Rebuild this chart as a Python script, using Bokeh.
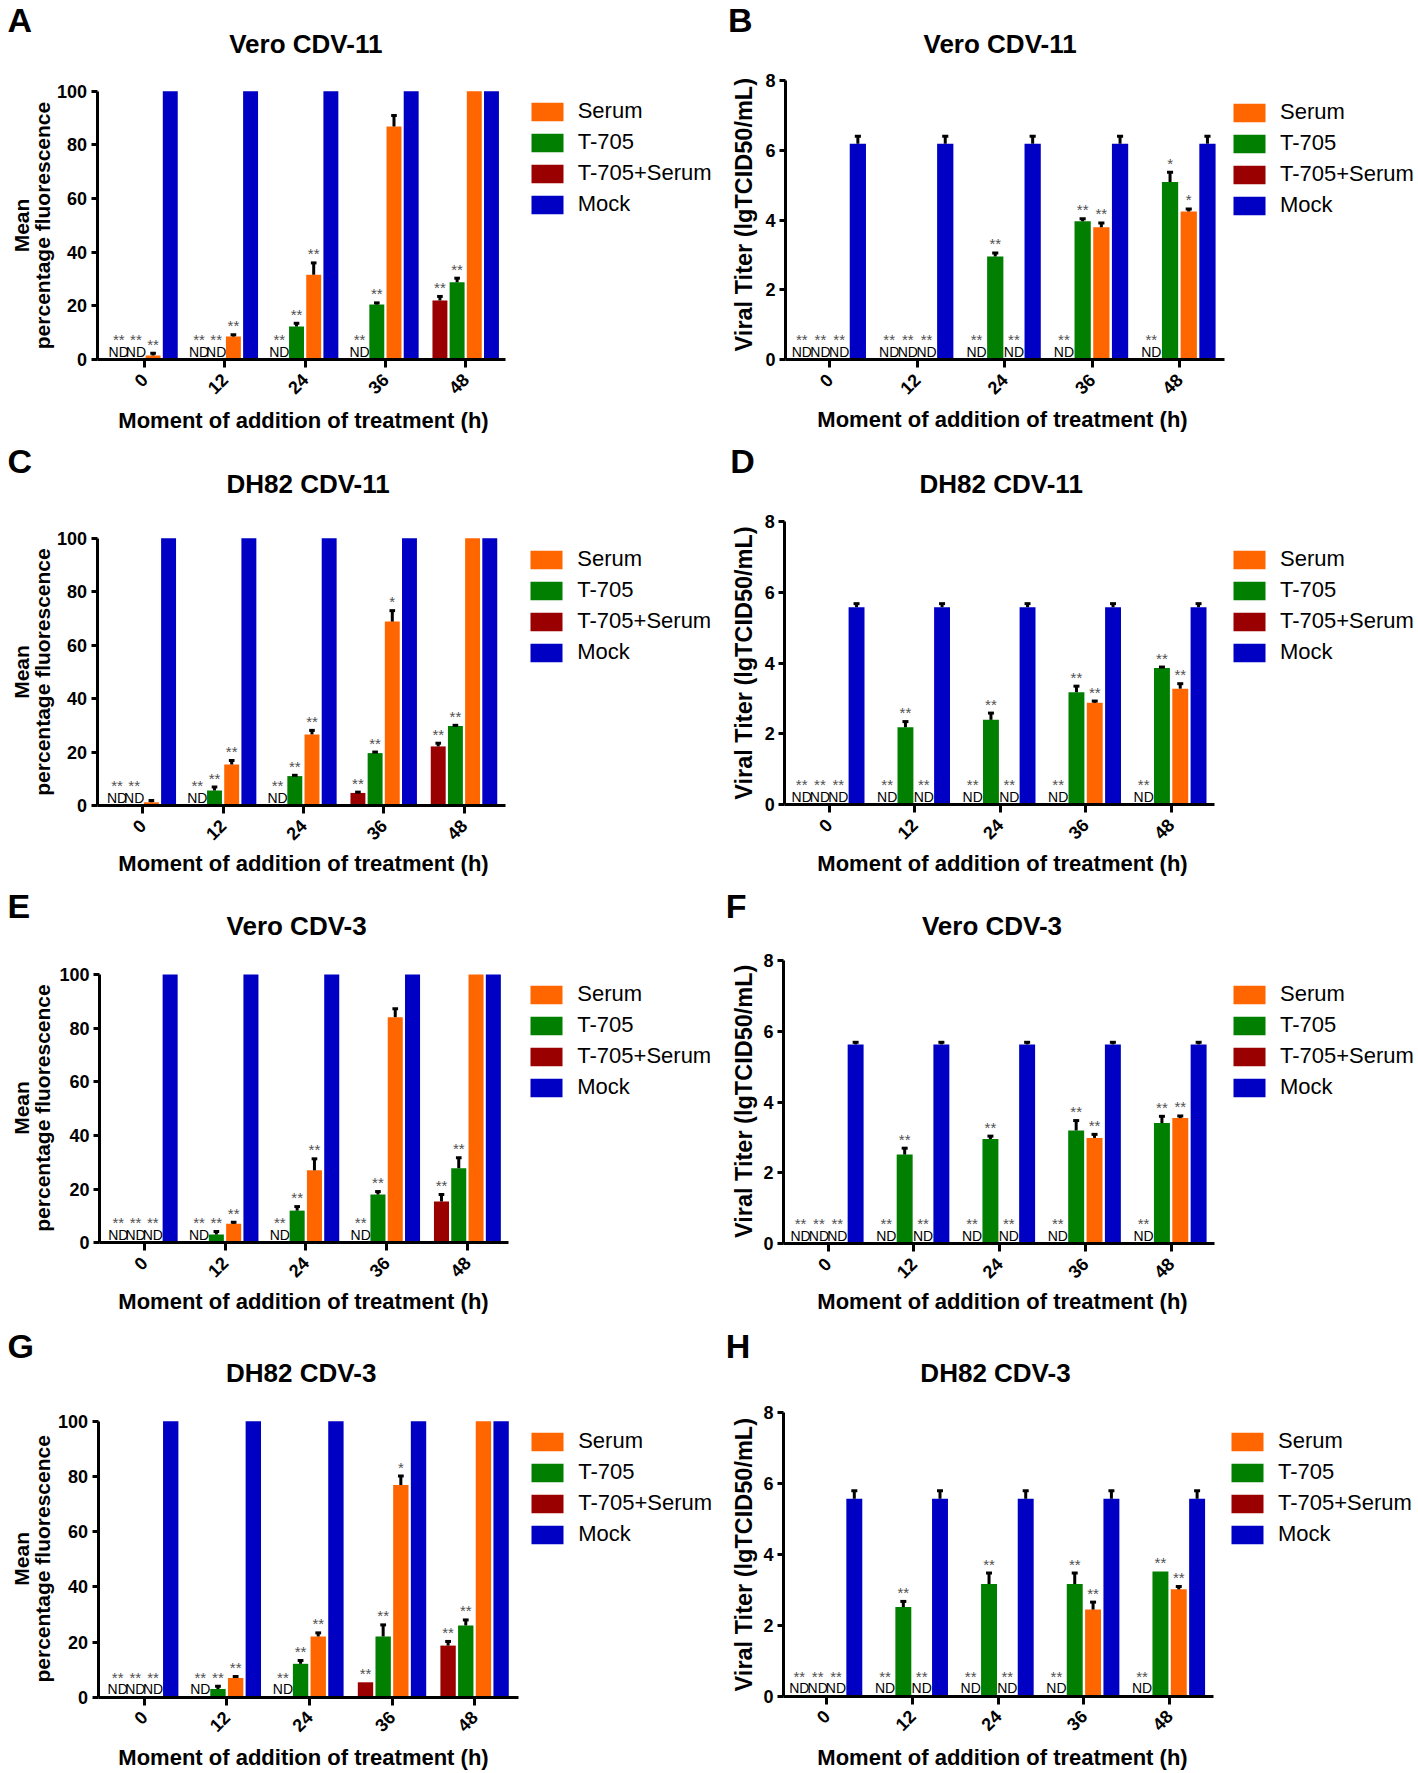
import math
from bokeh.plotting import figure
from bokeh.models import Range1d, FixedTicker, Legend, LegendItem, ColumnDataSource
from bokeh.layouts import column, row
from bokeh.embed import file_html
from bokeh.resources import INLINE
from bokeh.core.properties import value

# ---------------- data ----------------
hours = ["0", "12", "24", "36", "48"]
series_names = ["T-705+Serum", "T-705", "Serum", "Mock"]      # bar order inside a group
legend_order = ["Serum", "T-705", "T-705+Serum", "Mock"]
colors = {"T-705+Serum": "#9A0000", "T-705": "#007F00", "Serum": "#FF6600", "Mock": "#0000C4"}
ND = None  # not detected

# A  Vero CDV-11, fluorescence
A_t705s = [ND, ND, ND, ND, 22.0]
A_t705s_err = [0, 0, 0, 0, 1.5]
A_t705s_sig = ["**", "**", "**", "**", "**"]
A_t705 = [ND, ND, 12.3, 20.5, 28.8]
A_t705_err = [0, 0, 1.2, 0.6, 1.5]
A_t705_sig = ["**", "**", "**", "**", "**"]
A_serum = [1.5, 8.6, 31.6, 86.8, 100]
A_serum_err = [0.8, 0.6, 4.4, 4.1, 0]
A_serum_sig = ["**", "**", "**", "", ""]
A_mock = [100, 100, 100, 100, 100]
A_mock_err = [0, 0, 0, 0, 0]

# B  Vero CDV-11, titer
B_t705s = [ND, ND, ND, ND, ND]
B_t705s_err = [0, 0, 0, 0, 0]
B_t705s_sig = ["**", "**", "**", "**", "**"]
B_t705 = [ND, ND, 2.96, 3.97, 5.09]
B_t705_err = [0, 0, 0.1, 0.07, 0.28]
B_t705_sig = ["**", "**", "**", "**", "*"]
B_serum = [ND, ND, ND, 3.80, 4.25]
B_serum_err = [0, 0, 0, 0.12, 0.07]
B_serum_sig = ["**", "**", "**", "**", "*"]
B_mock = [6.19, 6.19, 6.19, 6.19, 6.19]
B_mock_err = [0.21, 0.21, 0.21, 0.21, 0.21]

# C  DH82 CDV-11, fluorescence
C_t705s = [ND, ND, ND, 4.7, 22.1]
C_t705s_err = [0, 0, 0, 0.3, 1.2]
C_t705s_sig = ["**", "**", "**", "**", "**"]
C_t705 = [ND, 5.6, 11.0, 19.6, 29.7]
C_t705_err = [0, 1.3, 0.3, 0.4, 0.3]
C_t705_sig = ["**", "**", "**", "**", "**"]
C_serum = [1.25, 15.3, 26.6, 68.8, 100]
C_serum_err = [0.65, 1.5, 1.5, 4.1, 0]
C_serum_sig = ["", "**", "**", "*", ""]
C_mock = [100, 100, 100, 100, 100]
C_mock_err = [0, 0, 0, 0, 0]

# D  DH82 CDV-11, titer
D_t705s = [ND, ND, ND, ND, ND]
D_t705s_err = [0, 0, 0, 0, 0]
D_t705s_sig = ["**", "**", "**", "**", "**"]
D_t705 = [ND, 2.19, 2.40, 3.18, 3.86]
D_t705_err = [0, 0.16, 0.19, 0.17, 0.03]
D_t705_sig = ["**", "**", "**", "**", "**"]
D_serum = [ND, ND, ND, 2.88, 3.28]
D_serum_err = [0, 0, 0, 0.05, 0.14]
D_serum_sig = ["**", "**", "**", "**", "**"]
D_mock = [5.58, 5.58, 5.58, 5.58, 5.58]
D_mock_err = [0.1, 0.1, 0.1, 0.1, 0.1]

# E  Vero CDV-3, fluorescence
E_t705s = [ND, ND, ND, ND, 15.4]
E_t705s_err = [0, 0, 0, 0, 2.6]
E_t705s_sig = ["**", "**", "**", "**", "**"]
E_t705 = [ND, 3.1, 12.0, 18.0, 27.8]
E_t705_err = [0, 1.1, 1.5, 1.1, 3.9]
E_t705_sig = ["**", "**", "**", "**", "**"]
E_serum = [ND, 7.1, 27.0, 84.1, 100]
E_serum_err = [0, 0.6, 4.3, 3.1, 0]
E_serum_sig = ["**", "**", "**", "", ""]
E_mock = [100, 100, 100, 100, 100]
E_mock_err = [0, 0, 0, 0, 0]

# F  Vero CDV-3, titer
F_t705s = [ND, ND, ND, ND, ND]
F_t705s_err = [0, 0, 0, 0, 0]
F_t705s_sig = ["**", "**", "**", "**", "**"]
F_t705 = [ND, 2.52, 2.96, 3.20, 3.41]
F_t705_err = [0, 0.18, 0.08, 0.28, 0.19]
F_t705_sig = ["**", "**", "**", "**", "**"]
F_serum = [ND, ND, ND, 2.99, 3.55]
F_serum_err = [0, 0, 0, 0.1, 0.06]
F_serum_sig = ["**", "**", "**", "**", "**"]
F_mock = [5.63, 5.63, 5.63, 5.63, 5.63]
F_mock_err = [0.06, 0.06, 0.06, 0.06, 0.06]

# G  DH82 CDV-3, fluorescence
G_t705s = [ND, ND, ND, 5.4, 18.7]
G_t705s_err = [0, 0, 0, 0, 1.5]
G_t705s_sig = ["**", "**", "**", "**", "**"]
G_t705 = [ND, 3.0, 12.1, 22.0, 26.0]
G_t705_err = [0, 1.0, 1.2, 4.2, 2.0]
G_t705_sig = ["**", "**", "**", "**", "**"]
G_serum = [ND, 7.0, 22.0, 76.9, 100]
G_serum_err = [0, 0.5, 1.3, 3.2, 0]
G_serum_sig = ["**", "**", "**", "*", ""]
G_mock = [100, 100, 100, 100, 100]
G_mock_err = [0, 0, 0, 0, 0]

# H  DH82 CDV-3, titer
H_t705s = [ND, ND, ND, ND, ND]
H_t705s_err = [0, 0, 0, 0, 0]
H_t705s_sig = ["**", "**", "**", "**", "**"]
H_t705 = [ND, 2.51, 3.16, 3.16, 3.51]
H_t705_err = [0, 0.16, 0.31, 0.31, 0]
H_t705_sig = ["**", "**", "**", "**", "**"]
H_serum = [ND, ND, ND, 2.44, 3.01]
H_serum_err = [0, 0, 0, 0.21, 0.08]
H_serum_sig = ["**", "**", "**", "**", "**"]
H_mock = [5.56, 5.56, 5.56, 5.56, 5.56]
H_mock_err = [0.23, 0.23, 0.23, 0.23, 0.23]

no_sig = ["", "", "", "", ""]

fluo_ticks = [0, 20, 40, 60, 80, 100]
titer_ticks = [0, 2, 4, 6, 8]
xlabel = "Moment of addition of treatment (h)"
fluo_ylabel = ["Mean", "percentage fluorescence"]
titer_ylabel = ["Viral Titer (lgTCID50/mL)"]

# ---------------- layout (page pixel geometry) ----------------
FONT = "Liberation Sans"
col_x0 = [0, 716]
col_w = [716, 701]
row_y0 = [0, 440, 885, 1325]
row_hs = [440, 445, 440, 447]

panels = [
    dict(letter="A", title="Vero CDV-11", col=0, row=0, kind="fluo",
         vals=[A_t705s, A_t705, A_serum, A_mock], errs=[A_t705s_err, A_t705_err, A_serum_err, A_mock_err],
         sigs=[A_t705s_sig, A_t705_sig, A_serum_sig, no_sig],
         frame=(96.5, 505, 90.7, 359), ticks=(144, 80.3), letter_pos=(7, 31), title_pos=(305.3, 53.3),
         xlab_pos=(303, 429), ylab_x=[20.7, 41.5], ylab_cy=225, legend=(530.7, 100.7)),
    dict(letter="B", title="Vero CDV-11", col=1, row=0, kind="titer",
         vals=[B_t705s, B_t705, B_serum, B_mock], errs=[B_t705s_err, B_t705_err, B_serum_err, B_mock_err],
         sigs=[B_t705s_sig, B_t705_sig, B_serum_sig, no_sig],
         frame=(785, 1224, 80, 359.3), ticks=(829.3, 87.4), letter_pos=(727.5, 31), title_pos=(999.6, 53.3),
         xlab_pos=(1002, 427.7), ylab_x=[743], ylab_cy=214.2, legend=(1233, 101.7)),
    dict(letter="C", title="DH82 CDV-11", col=0, row=1, kind="fluo",
         vals=[C_t705s, C_t705, C_serum, C_mock], errs=[C_t705s_err, C_t705_err, C_serum_err, C_mock_err],
         sigs=[C_t705s_sig, C_t705_sig, C_serum_sig, no_sig],
         frame=(96.5, 504.6, 537.7, 805), ticks=(142.3, 80.3), letter_pos=(7, 471.7), title_pos=(307.6, 493.3),
         xlab_pos=(303, 872.3), ylab_x=[20.7, 41.5], ylab_cy=671.5, legend=(530.3, 548.3)),
    dict(letter="D", title="DH82 CDV-11", col=1, row=1, kind="titer",
         vals=[D_t705s, D_t705, D_serum, D_mock], errs=[D_t705s_err, D_t705_err, D_serum_err, D_mock_err],
         sigs=[D_t705s_sig, D_t705_sig, D_serum_sig, no_sig],
         frame=(784.3, 1214.2, 521, 804.3), ticks=(828.6, 85.5), letter_pos=(729.8, 471.7), title_pos=(1000.7, 493.3),
         xlab_pos=(1002, 872.3), ylab_x=[743], ylab_cy=662.5, legend=(1233, 548.3)),
    dict(letter="E", title="Vero CDV-3", col=0, row=2, kind="fluo",
         vals=[E_t705s, E_t705, E_serum, E_mock], errs=[E_t705s_err, E_t705_err, E_serum_err, E_mock_err],
         sigs=[E_t705s_sig, E_t705_sig, E_serum_sig, no_sig],
         frame=(99, 508.3, 974, 1242.3), ticks=(143.7, 80.8), letter_pos=(7, 916.7), title_pos=(296.1, 935),
         xlab_pos=(303, 1310), ylab_x=[20.7, 41.5], ylab_cy=1107.5, legend=(530.3, 983.3)),
    dict(letter="F", title="Vero CDV-3", col=1, row=2, kind="titer",
         vals=[F_t705s, F_t705, F_serum, F_mock], errs=[F_t705s_err, F_t705_err, F_serum_err, F_mock_err],
         sigs=[F_t705s_sig, F_t705_sig, F_serum_sig, no_sig],
         frame=(783, 1214.2, 960, 1243.3), ticks=(827.6, 85.75), letter_pos=(725.3, 916.7), title_pos=(991.5, 935),
         xlab_pos=(1002, 1310), ylab_x=[743], ylab_cy=1100.8, legend=(1233, 983.3)),
    dict(letter="G", title="DH82 CDV-3", col=0, row=3, kind="fluo",
         vals=[G_t705s, G_t705, G_serum, G_mock], errs=[G_t705s_err, G_t705_err, G_serum_err, G_mock_err],
         sigs=[G_t705s_sig, G_t705_sig, G_serum_sig, no_sig],
         frame=(97.5, 517.5, 1420.7, 1696.7), ticks=(143.7, 82.6), letter_pos=(7, 1356.7), title_pos=(300.7, 1381.7),
         xlab_pos=(303, 1765.5), ylab_x=[20.7, 41.5], ylab_cy=1558.3, legend=(531.2, 1430.7)),
    dict(letter="H", title="DH82 CDV-3", col=1, row=3, kind="titer",
         vals=[H_t705s, H_t705, H_serum, H_mock], errs=[H_t705s_err, H_t705_err, H_serum_err, H_mock_err],
         sigs=[H_t705s_sig, H_t705_sig, H_serum_sig, no_sig],
         frame=(783, 1212.9, 1411.7, 1695.7), ticks=(826.3, 85.7), letter_pos=(725.3, 1356.7), title_pos=(995, 1381.7),
         xlab_pos=(1002, 1765.5), ylab_x=[743], ylab_cy=1554.2, legend=(1231, 1430.7)),
]

PITCH = 0.214
BAR_W = 0.186
CAP = 0.035
OFFS = [-1.5, -0.5, 0.5, 1.5]
LEG_GW, LEG_GH, LEG_LH, LEG_SP = 40, 23, 26, 5
LETTER_SIZE = 34
# the renderer draws "alphabetic" text a little low; these pull the texts back up (px)
LIFT = {"letter": 11.3, "title": 9.5, "xlabel": 9, "small": 6}


def build(P):
    fx0, W = col_x0[P["col"]], col_w[P["col"]]
    fy0, H = row_y0[P["row"]], row_hs[P["row"]]
    l, r, t, b = P["frame"]
    tick0, step = P["ticks"]
    fluo = P["kind"] == "fluo"
    ymax = 100 if fluo else 8

    def X(px):   # page x -> data x (group index units)
        return (px - tick0) / step

    def Y(py):   # page y -> data y
        return ymax * (b - py) / (b - t)

    # the frame fills the whole canvas; the axes are pinned to the plot-area edges
    p = figure(width=W, height=H, x_range=Range1d(X(fx0), X(fx0 + W)), y_range=Range1d(Y(fy0 + H), Y(fy0)),
               min_border=0, output_backend="svg", toolbar_location=None, tools="")
    p.xgrid.visible = False
    p.ygrid.visible = False
    p.outline_line_color = None

    rends = {}
    for k, name in enumerate(series_names):
        vals, errs, sigs = P["vals"][k], P["errs"][k], P["sigs"][k]
        xs = [i + OFFS[k] * PITCH for i in range(5)]
        tops = [v if v is not None else float("nan") for v in vals]
        src = ColumnDataSource(dict(x=xs, top=tops))
        rends[name] = p.vbar(x="x", top="top", bottom=0, width=BAR_W, source=src,
                             fill_color=colors[name], line_color=None)
        has = [i for i in range(5) if vals[i] is not None and errs[i] > 0]
        if has:
            ex = [xs[i] for i in has]
            ey0 = [vals[i] for i in has]
            ey1 = [vals[i] + errs[i] for i in has]
            p.segment(x0=ex, y0=ey0, x1=ex, y1=ey1, line_color="black", line_width=3)
            p.segment(x0=[x - CAP for x in ex], y0=ey1, x1=[x + CAP for x in ex], y1=ey1,
                      line_color="black", line_width=3)
        nd = [i for i in range(5) if vals[i] is None]
        if nd:
            p.text(x=[xs[i] for i in nd], y=[0] * len(nd), text=["ND"] * len(nd), text_align="center",
                   text_baseline="alphabetic", y_offset=-2 - LIFT["small"],
                   text_font=value(FONT), text_font_size="14px", text_color="black")
        snd = [i for i in range(5) if vals[i] is None and sigs[i]]
        if snd:
            p.text(x=[xs[i] for i in snd], y=[0] * len(snd), text=[sigs[i] for i in snd],
                   text_align="center", text_baseline="alphabetic", y_offset=-14 - LIFT["small"],
                   text_font=value(FONT), text_font_size="15px", text_color="#505050")
        sb = [i for i in range(5) if vals[i] is not None and sigs[i]]
        if sb:
            p.text(x=[xs[i] for i in sb], y=[vals[i] + errs[i] for i in sb], text=[sigs[i] for i in sb],
                   text_align="center", text_baseline="alphabetic", y_offset=-3 - LIFT["small"],
                   text_font=value(FONT), text_font_size="15px", text_color="#505050")

    # axes, pinned at the plot-area edges
    xa, ya = p.xaxis[0], p.yaxis[0]
    xa.fixed_location = 0
    xa.bounds = (X(l), X(r))
    ya.fixed_location = X(l)
    ya.bounds = (0, ymax)
    xa.ticker = FixedTicker(ticks=[0, 1, 2, 3, 4])
    xa.major_label_overrides = {i: h for i, h in enumerate(hours)}
    xa.major_label_orientation = math.pi / 4
    ya.ticker = FixedTicker(ticks=fluo_ticks if fluo else titer_ticks)
    for ax in (xa, ya):
        ax.axis_line_width = 3
        ax.axis_line_color = "black"
        ax.major_tick_line_width = 3
        ax.major_tick_line_color = "black"
        ax.minor_tick_line_color = None
        ax.major_tick_in = 0
        ax.major_label_text_font = FONT
        ax.major_label_text_font_style = "bold"
        ax.major_label_text_font_size = "18px"
        ax.major_label_text_color = "black"
    ya.major_tick_out = 6
    xa.major_tick_out = 8
    ya.major_label_standoff = 4
    xa.major_label_standoff = 9

    def txt(s, px, py, size, align="center", angle=0.0, lift=0.0):
        p.text(x=[X(px)], y=[Y(py)], text=[s], angle=angle, text_align=align, text_baseline="alphabetic",
               y_offset=-lift,
               text_font=value(FONT), text_font_style="bold", text_font_size=f"{size}px", text_color="black")

    txt(P["letter"], P["letter_pos"][0], P["letter_pos"][1], LETTER_SIZE, align="left", lift=LIFT["letter"])
    txt(P["title"], P["title_pos"][0], P["title_pos"][1], 26, lift=LIFT["title"])
    txt(xlabel, P["xlab_pos"][0], P["xlab_pos"][1], 22, lift=LIFT["xlabel"])
    ylabels = fluo_ylabel if fluo else titer_ylabel
    for s, xb in zip(ylabels, P["ylab_x"]):
        txt(s, xb, P["ylab_cy"], 21 if fluo else 23.5, angle=math.pi / 2)

    # legend
    items = [LegendItem(label=n, renderers=[rends[n]]) for n in legend_order]
    sw_l, sw_t = P["legend"]
    L = 4 * LEG_LH + 3 * LEG_SP
    leg_top = sw_t - 0.1 * LEG_GH
    vx = (sw_l - 0.1 * LEG_GW) - fx0
    vy = (fy0 + H) - (leg_top + L)
    legend = Legend(items=items, location=(vx, vy), orientation="vertical",
                    glyph_width=LEG_GW, glyph_height=LEG_GH, label_height=LEG_LH, label_width=20,
                    label_standoff=11, spacing=LEG_SP, padding=0, margin=0,
                    border_line_color=None, background_fill_alpha=0,
                    label_text_font=FONT, label_text_font_size="22px", label_text_color="black")
    p.add_layout(legend)
    return p


figs = {(P["row"], P["col"]): build(P) for P in panels}
layout = column(*[row(figs[(ri, 0)], figs[(ri, 1)]) for ri in range(4)])
open("out.html", "w").write(file_html(layout, INLINE))
